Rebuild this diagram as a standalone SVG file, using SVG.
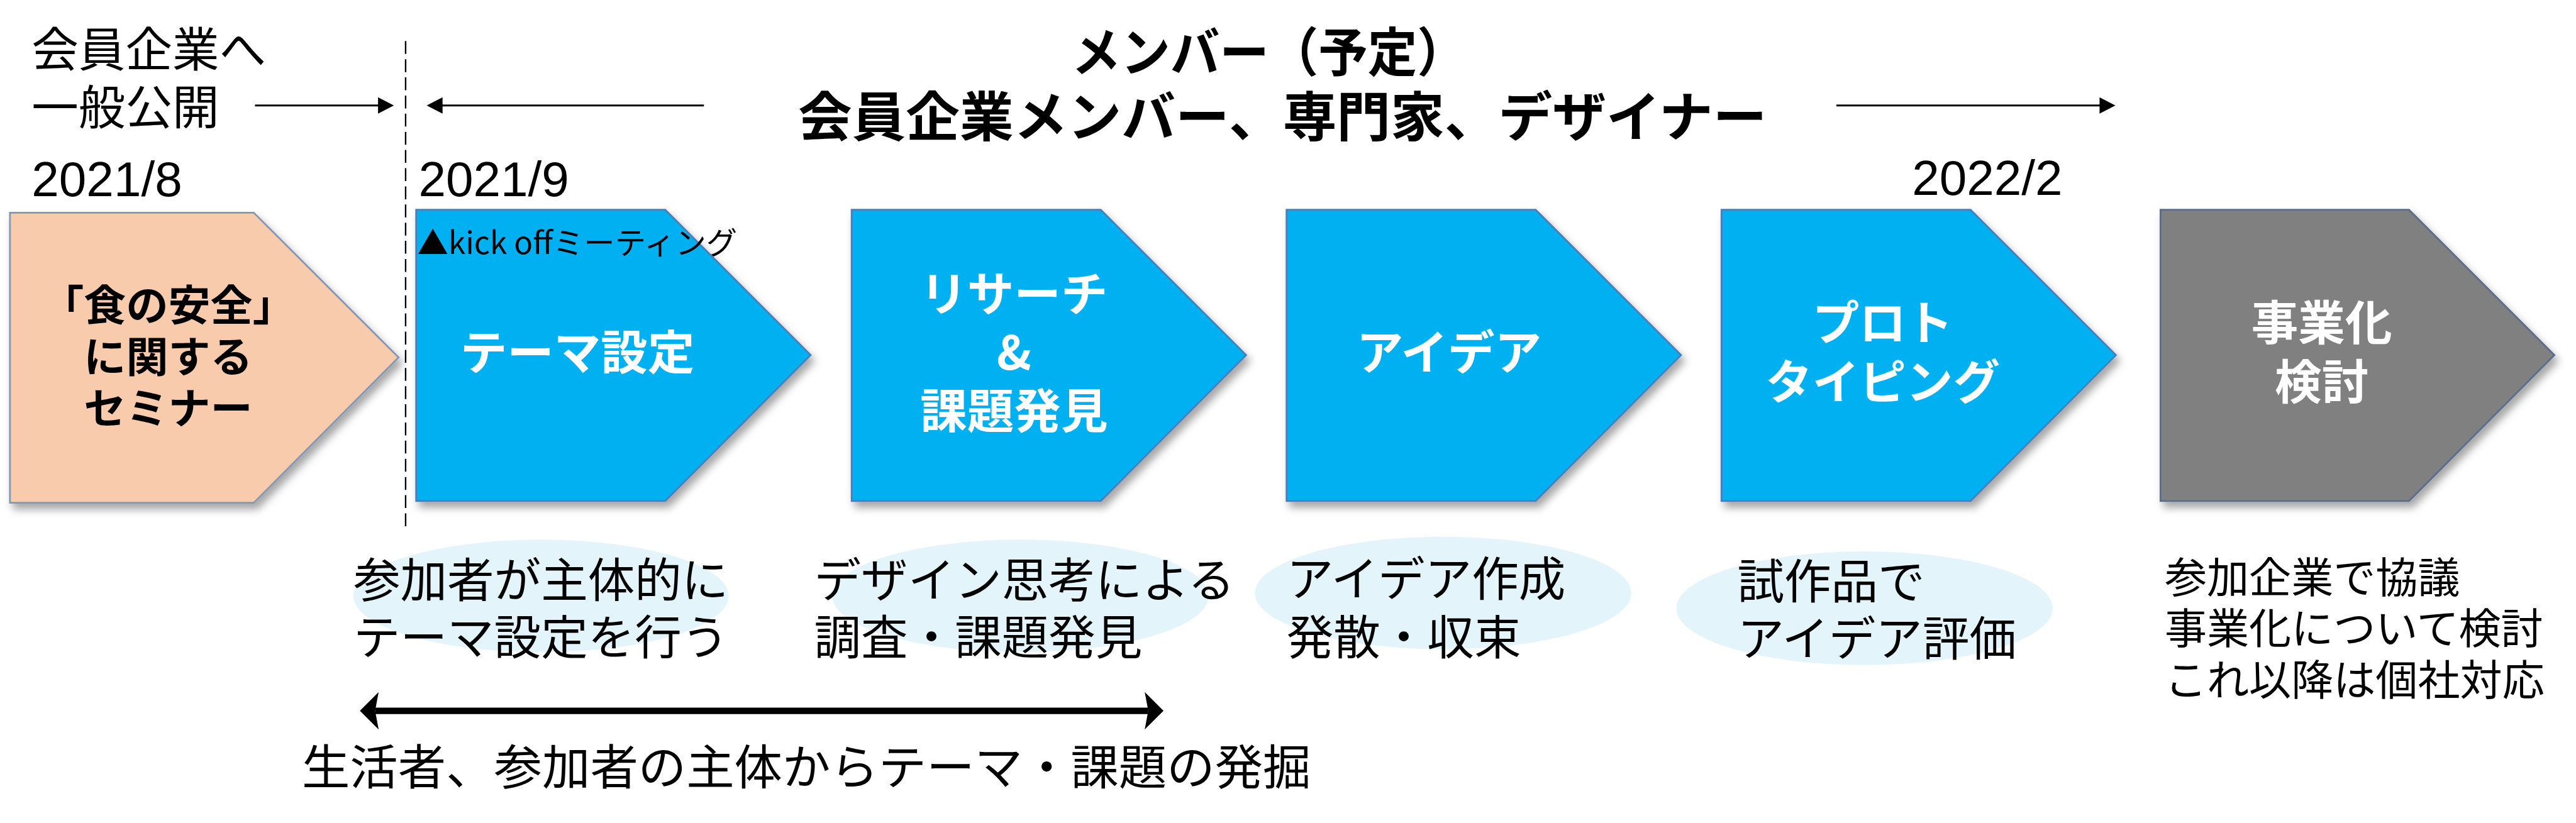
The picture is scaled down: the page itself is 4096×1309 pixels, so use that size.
<svg xmlns="http://www.w3.org/2000/svg" width="4096" height="1309" viewBox="0 0 4096 1309">
<defs>
<style>
.jp{font-family:"Noto Sans CJK JP","Noto Sans",sans-serif;}
.lat{font-family:"Liberation Sans",Arial,sans-serif;}
.lbl{font-family:"Noto Sans CJK JP",sans-serif;font-weight:700;fill:#fff;font-size:80px;text-anchor:middle;}
.desc{font-family:"Noto Sans CJK JP",sans-serif;fill:#000;font-size:80px;}
.small{font-size:72px;}
.big{font-size:82px;}
.blue{fill:#00B0F0;stroke:#4A7EBB;stroke-width:3;filter:url(#sh);}
.peach{fill:#F8CBAD;stroke:#8497B0;stroke-width:3;filter:url(#sh);}
.gray{fill:#808080;stroke:#5A6E8C;stroke-width:3;filter:url(#sh);}
.ell{fill:#E3F4FB;}
.thin{stroke:#000;stroke-width:3;fill:none;}
</style>
<filter id="sh" x="-10%" y="-10%" width="130%" height="130%">
<feDropShadow dx="6" dy="10" stdDeviation="7" flood-color="#000" flood-opacity="0.35"/>
</filter>
</defs>
<rect width="4096" height="1309" fill="#fff"/>
<g transform="scale(0.932)">
<g id="connectors">
<line x1="692" y1="70" x2="692" y2="905" stroke="#000" stroke-width="2.5" stroke-dasharray="22 9"/>
<line x1="435" y1="180" x2="646" y2="180" class="thin"/>
<polygon points="672,180 645,166 645,194" fill="#000"/>
<line x1="754" y1="180" x2="1201" y2="180" class="thin"/>
<polygon points="728,180 755,166 755,194" fill="#000"/>
<line x1="3133" y1="180" x2="3583" y2="180" class="thin"/>
<polygon points="3609,180 3582,166 3582,194" fill="#000"/>
<line x1="640" y1="1213" x2="1959" y2="1213" stroke="#000" stroke-width="11"/>
<polygon points="614,1213 646,1181 640,1213 646,1245" fill="#000"/>
<polygon points="1985,1213 1953,1181 1959,1213 1953,1245" fill="#000"/>
</g>
<g id="top-labels">
<text class="jp" x="54" y="114" font-size="80">会員企業へ</text>
<text class="jp" x="54" y="212" font-size="80">一般公開</text>
<text class="lat" x="54" y="335" font-size="84">2021/8</text>
<text class="lat" x="714" y="335" font-size="84">2021/9</text>
<text class="lat" x="3262" y="333" font-size="84">2022/2</text>
<text class="jp" x="2165" y="122" font-size="90" font-weight="700" text-anchor="middle" textLength="674" lengthAdjust="spacingAndGlyphs">メンバー（予定）</text>
<text class="jp" x="2188" y="233" font-size="92" font-weight="700" text-anchor="middle">会員企業メンバー、専門家、デザイナー</text>
</g>
<g id="node-seminar">
<polygon class="peach" points="17,363 433,363 680,610 433,858 17,858"/>
<text class="jp" x="287" y="547" font-size="72" font-weight="700" text-anchor="middle">「食の安全」</text>
<text class="jp" x="287" y="635" font-size="72" font-weight="700" text-anchor="middle">に関する</text>
<text class="jp" x="287" y="723" font-size="72" font-weight="700" text-anchor="middle">セミナー</text>
</g>
<g id="node-theme">
<polygon class="blue" points="710,358 1135,358 1383,606 1135,855 710,855"/>
<text class="lbl" x="985" y="631">テーマ設定</text>
<text class="jp" x="712" y="434" font-size="53">▲kick offミーティング</text>
</g>
<g id="node-research">
<polygon class="blue" points="1453,358 1878,358 2126,606 1878,855 1453,855"/>
<text class="lbl" x="1730" y="531">リサーチ</text>
<text class="lbl" x="1730" y="631">&amp;</text>
<text class="lbl" x="1730" y="731">課題発見</text>
</g>
<g id="node-idea">
<polygon class="blue" points="2195,358 2620,358 2868,606 2620,855 2195,855"/>
<text class="lbl" x="2472" y="631">アイデア</text>
</g>
<g id="node-proto">
<polygon class="blue" points="2937,358 3362,358 3610,606 3362,855 2937,855"/>
<text class="lbl" x="3212" y="581">プロト</text>
<text class="lbl" x="3212" y="681">タイピング</text>
</g>
<g id="node-business">
<polygon class="gray" points="3686,358 4110,358 4358,606 4110,855 3686,855"/>
<text class="lbl" x="3961" y="581">事業化</text>
<text class="lbl" x="3961" y="681">検討</text>
</g>
<g id="desc-theme">
<ellipse class="ell" cx="923" cy="1017" rx="320" ry="96"/>
<text class="desc" x="603" y="1019">参加者が主体的に</text>
<text class="desc" x="603" y="1117">テーマ設定を行う</text>
</g>
<g id="desc-research">
<ellipse class="ell" cx="1741" cy="1017" rx="321" ry="96"/>
<text class="desc" x="1389" y="1019">デザイン思考による</text>
<text class="desc" x="1389" y="1117">調査・課題発見</text>
</g>
<g id="desc-idea">
<ellipse class="ell" cx="2462" cy="1012" rx="321" ry="96"/>
<text class="desc" x="2195" y="1017">アイデア作成</text>
<text class="desc" x="2195" y="1117">発散・収束</text>
</g>
<g id="desc-proto">
<ellipse class="ell" cx="3181" cy="1038" rx="321" ry="97"/>
<text class="desc" x="2964" y="1021">試作品で</text>
<text class="desc" x="2964" y="1119">アイデア評価</text>
</g>
<g id="desc-business">
<text class="desc small" x="3693" y="1012">参加企業で協議</text>
<text class="desc small" x="3693" y="1099">事業化について検討</text>
<text class="desc small" x="3693" y="1187">これ以降は個社対応</text>
</g>
<g id="bottom-label">
<text class="desc big" x="515" y="1339">生活者、参加者の主体からテーマ・課題の発掘</text>
</g>
</g>
</svg>
